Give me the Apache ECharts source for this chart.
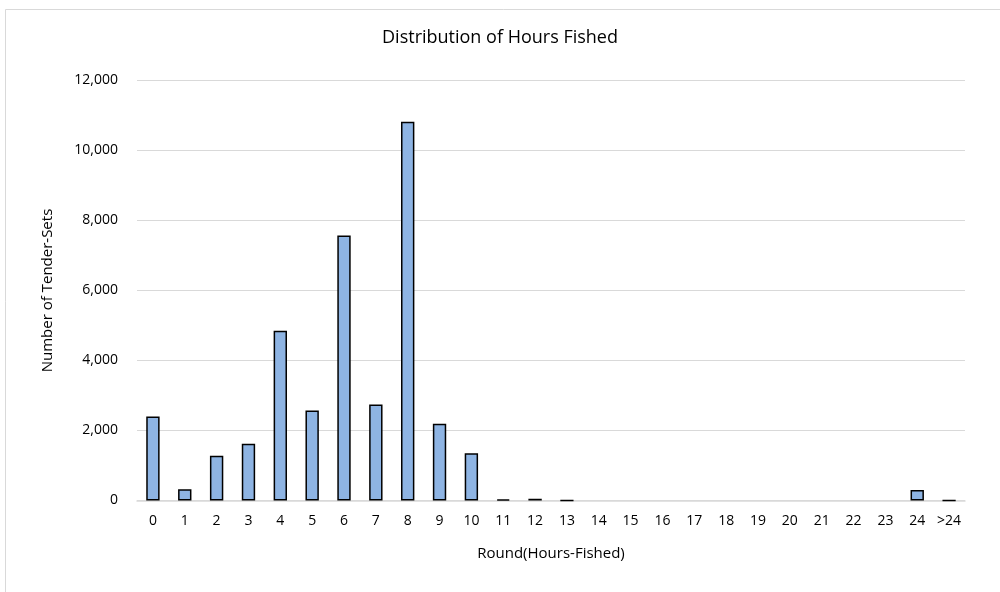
<!DOCTYPE html>
<html>
<head>
<meta charset="utf-8">
<script src="https://cdn.jsdelivr.net/npm/echarts@6/dist/echarts.min.js"></script>
<style>
  html, body { margin: 0; padding: 0; background: #fff; }
  #chart { width: 1000px; height: 592px; }
</style>
</head>
<body>
<div id="chart"></div>
<script>
// hours fished, rounded
const categories = ['0','1','2','3','4','5','6','7','8','9','10','11','12','13','14','15','16','17','18','19','20','21','22','23','24','>24'];
const tenderSets = [2400, 320, 1280, 1620, 4850, 2570, 7570, 2740, 10820, 2190, 1350, 35, 50, 5, 0, 0, 0, 0, 0, 0, 0, 0, 0, 0, 300, 5];

const font = '"Open Sans", "Noto Sans", sans-serif';

let chart = echarts.init(document.getElementById('chart'), null, { renderer: 'canvas' });

// empty bins get no outline, otherwise a black line sits on the axis
let barData = tenderSets.map(v => v > 0 ? v : { value: v, itemStyle: { borderWidth: 0 } });

chart.setOption({
    animation: false,
    backgroundColor: '#fff',
    graphic: [{
        type: 'rect',
        shape: { x: 5.5, y: 9.5, width: 1100, height: 700 },
        style: { fill: 'none', stroke: '#d9d9d9', lineWidth: 1 },
        silent: true
    }],
    title: {
        text: 'Distribution of Hours Fished',
        left: 'center',
        top: 24,
        textStyle: { fontFamily: font, fontSize: 18, fontWeight: 'normal', color: '#000' }
    },
    grid: { left: 137, right: 35, top: 80.5, bottom: 91.5, containLabel: false },
    xAxis: {
        type: 'category',
        data: categories,
        name: 'Round(Hours-Fished)',
        nameLocation: 'middle',
        nameGap: 46,
        nameTextStyle: { fontFamily: font, fontSize: 15, color: '#000' },
        axisLine: { lineStyle: { color: '#d9d9d9', width: 1.5 } },
        axisTick: { show: false },
        axisLabel: { fontFamily: font, fontSize: 14, color: '#000', margin: 14, interval: 0 }
    },
    yAxis: {
        type: 'value',
        min: 0,
        max: 12000,
        interval: 2000,
        name: 'Number of Tender-Sets',
        nameLocation: 'middle',
        nameGap: 82,
        nameTextStyle: { fontFamily: font, fontSize: 15, color: '#000' },
        axisLine: { show: false },
        axisTick: { show: false },
        splitLine: { lineStyle: { color: '#d9d9d9', width: 1 } },
        axisLabel: {
            fontFamily: font, fontSize: 14, color: '#000', margin: 19,
            formatter: v => v.toLocaleString('en-US')
        }
    },
    series: [{
        type: 'bar',
        data: barData,
        barWidth: '42%',
        itemStyle: { color: '#8eb4e3', borderColor: '#000', borderWidth: 1.5 }
    }]
});
</script>
</body>
</html>
